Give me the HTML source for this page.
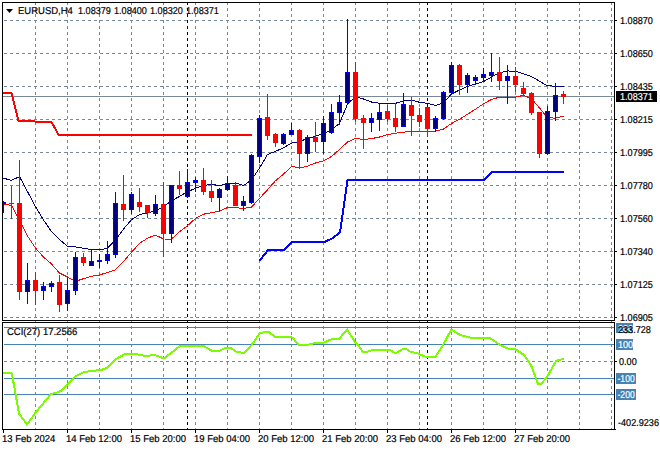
<!DOCTYPE html><html><head><meta charset="utf-8"><style>html,body{margin:0;padding:0;background:#fff;width:660px;height:450px;overflow:hidden}svg{display:block}text{font-family:"Liberation Sans",sans-serif;font-size:10px;fill:#000;text-rendering:geometricPrecision}</style></head><body><svg width="660" height="450" viewBox="0 0 660 450"><g stroke="#778899" stroke-width="1" stroke-dasharray="3 3" shape-rendering="crispEdges"><line x1="35.5" y1="2" x2="35.5" y2="320" /><line x1="35.5" y1="320" x2="35.5" y2="429" /><line x1="67.5" y1="2" x2="67.5" y2="320" /><line x1="67.5" y1="320" x2="67.5" y2="429" /><line x1="99.5" y1="2" x2="99.5" y2="320" /><line x1="99.5" y1="320" x2="99.5" y2="429" /><line x1="131.5" y1="2" x2="131.5" y2="320" /><line x1="131.5" y1="320" x2="131.5" y2="429" /><line x1="163.5" y1="2" x2="163.5" y2="320" /><line x1="163.5" y1="320" x2="163.5" y2="429" /><line x1="195.5" y1="2" x2="195.5" y2="320" /><line x1="195.5" y1="320" x2="195.5" y2="429" /><line x1="227.5" y1="2" x2="227.5" y2="320" /><line x1="227.5" y1="320" x2="227.5" y2="429" /><line x1="259.5" y1="2" x2="259.5" y2="320" /><line x1="259.5" y1="320" x2="259.5" y2="429" /><line x1="291.5" y1="2" x2="291.5" y2="320" /><line x1="291.5" y1="320" x2="291.5" y2="429" /><line x1="323.5" y1="2" x2="323.5" y2="320" /><line x1="323.5" y1="320" x2="323.5" y2="429" /><line x1="355.5" y1="2" x2="355.5" y2="320" /><line x1="355.5" y1="320" x2="355.5" y2="429" /><line x1="387.5" y1="2" x2="387.5" y2="320" /><line x1="387.5" y1="320" x2="387.5" y2="429" /><line x1="419.5" y1="2" x2="419.5" y2="320" /><line x1="419.5" y1="320" x2="419.5" y2="429" /><line x1="451.5" y1="2" x2="451.5" y2="320" /><line x1="451.5" y1="320" x2="451.5" y2="429" /><line x1="483.5" y1="2" x2="483.5" y2="320" /><line x1="483.5" y1="320" x2="483.5" y2="429" /><line x1="515.5" y1="2" x2="515.5" y2="320" /><line x1="515.5" y1="320" x2="515.5" y2="429" /><line x1="547.5" y1="2" x2="547.5" y2="320" /><line x1="547.5" y1="320" x2="547.5" y2="429" /><line x1="579.5" y1="2" x2="579.5" y2="320" /><line x1="579.5" y1="320" x2="579.5" y2="429" /><line x1="611.5" y1="2" x2="611.5" y2="320" /><line x1="611.5" y1="320" x2="611.5" y2="429" /></g><g stroke="#778899" stroke-width="1" stroke-dasharray="3 3" shape-rendering="crispEdges"><line x1="4" y1="20.5" x2="614" y2="20.5" /><line x1="4" y1="53.5" x2="614" y2="53.5" /><line x1="4" y1="86.5" x2="614" y2="86.5" /><line x1="4" y1="119.5" x2="614" y2="119.5" /><line x1="4" y1="152.5" x2="614" y2="152.5" /><line x1="4" y1="185.5" x2="614" y2="185.5" /><line x1="4" y1="218.5" x2="614" y2="218.5" /><line x1="4" y1="251.5" x2="614" y2="251.5" /><line x1="4" y1="284.5" x2="614" y2="284.5" /><line x1="4" y1="317.5" x2="614" y2="317.5" /><line x1="4" y1="361.5" x2="614" y2="361.5" /></g><g stroke="#000" stroke-width="1" stroke-dasharray="3 3" shape-rendering="crispEdges"><line x1="187.5" y1="2" x2="187.5" y2="320"/><line x1="187.5" y1="320" x2="187.5" y2="429"/><line x1="427.5" y1="2" x2="427.5" y2="320"/><line x1="427.5" y1="320" x2="427.5" y2="429"/></g><line x1="3" y1="96.5" x2="614" y2="96.5" stroke="#778899" stroke-width="1" shape-rendering="crispEdges"/><g stroke="#4682b4" stroke-width="1" shape-rendering="crispEdges"><line x1="4" y1="327.5" x2="614" y2="327.5"/><line x1="4" y1="344.5" x2="614" y2="344.5"/><line x1="4" y1="378.5" x2="614" y2="378.5"/><line x1="4" y1="394.5" x2="614" y2="394.5"/></g><polyline points="-4.5,177.5 3.5,178.2 11.5,180.3 19.5,176.6 27.5,191.6 35.5,206.7 43.5,220.0 51.5,231.5 59.5,239.5 67.5,246.2 75.5,247.0 83.5,248.3 91.5,249.5 99.5,250.0 107.5,248.2 115.5,240.0 123.5,229.0 131.5,219.7 139.5,214.6 147.5,213.0 155.5,210.5 163.5,206.9 171.5,200.8 179.5,196.4 187.5,191.7 195.5,188.3 203.5,185.4 211.5,184.4 219.5,185.6 227.5,183.4 235.5,183.0 243.5,185.6 251.5,180.0 259.5,168.0 267.5,154.5 275.5,151.3 283.5,147.8 291.5,143.1 299.5,141.8 307.5,138.3 315.5,136.3 323.5,133.5 331.5,129.8 339.5,123.5 347.5,104.0 355.5,96.5 363.5,99.0 371.5,102.0 379.5,103.3 387.5,103.3 395.5,103.3 403.5,101.1 411.5,99.9 419.5,102.3 427.5,103.3 435.5,105.5 443.5,102.8 451.5,94.0 459.5,90.0 467.5,86.5 475.5,84.0 483.5,81.6 491.5,77.0 499.5,72.8 507.5,70.9 515.5,71.4 523.5,73.7 531.5,76.5 539.5,81.2 547.5,85.9 555.5,86.1 563.5,86.8" fill="none" stroke="#000080" stroke-width="1" shape-rendering="crispEdges"/><polyline points="-4.5,204.0 3.5,204.0 11.5,205.5 19.5,220.0 27.5,236.0 35.5,248.0 43.5,257.0 51.5,264.0 59.5,273.0 67.5,277.0 75.5,281.3 83.5,278.7 91.5,276.3 99.5,275.0 107.5,272.4 115.5,269.8 123.5,261.5 131.5,252.2 139.5,243.4 147.5,238.2 155.5,235.1 163.5,239.0 171.5,239.1 179.5,231.7 187.5,225.7 195.5,218.4 203.5,214.2 211.5,212.7 219.5,211.1 227.5,207.6 235.5,207.6 243.5,208.6 251.5,207.0 259.5,198.5 267.5,189.8 275.5,180.7 283.5,174.2 291.5,166.4 299.5,168.0 307.5,166.1 315.5,163.0 323.5,160.8 331.5,156.5 339.5,149.5 347.5,142.0 355.5,138.3 363.5,139.5 371.5,138.6 379.5,137.0 387.5,134.6 395.5,133.2 403.5,132.1 411.5,131.4 419.5,131.2 427.5,132.0 435.5,131.2 443.5,129.0 451.5,123.5 459.5,119.2 467.5,114.3 475.5,109.2 483.5,103.9 491.5,99.4 499.5,97.2 507.5,97.8 515.5,97.2 523.5,95.3 531.5,98.7 539.5,107.9 547.5,117.6 555.5,118.2 563.5,116.2" fill="none" stroke="#ff0000" stroke-width="1" shape-rendering="crispEdges"/><polyline points="3,93 11.5,93 18.5,121 34.5,121 35.5,122 51.5,122 58.7,135 252,135" fill="none" stroke="#ff0000" stroke-width="2" shape-rendering="crispEdges"/><polyline points="259.5,261 268,250 284,250 292,242 324.5,242 332,238.5 340,232.5 347.5,180 484,180 492,172 564,172" fill="none" stroke="#0000ff" stroke-width="2" shape-rendering="crispEdges"/><g shape-rendering="crispEdges"><rect x="3" y="201" width="1" height="12" fill="#0000ff"/><rect x="4" y="202" width="2" height="2" fill="#0000ff"/><rect x="11" y="186" width="1" height="33" fill="#ff0000"/><rect x="9" y="203" width="5" height="1" fill="#ff0000"/><rect x="19" y="160" width="1" height="140" fill="#ff0000"/><rect x="17" y="203" width="5" height="89" fill="#ff0000"/><rect x="27" y="263" width="1" height="41" fill="#0000ff"/><rect x="25" y="280" width="5" height="12" fill="#0000ff"/><rect x="26" y="281" width="3" height="10" fill="#000080"/><rect x="35" y="272" width="1" height="33" fill="#ff0000"/><rect x="33" y="280" width="5" height="11" fill="#ff0000"/><rect x="43" y="282" width="1" height="18" fill="#0000ff"/><rect x="41" y="286" width="5" height="5" fill="#0000ff"/><rect x="42" y="287" width="3" height="3" fill="#000080"/><rect x="51" y="281" width="1" height="11" fill="#0000ff"/><rect x="49" y="283" width="5" height="4" fill="#0000ff"/><rect x="50" y="284" width="3" height="2" fill="#000080"/><rect x="59" y="275" width="1" height="37" fill="#ff0000"/><rect x="57" y="282" width="5" height="23" fill="#ff0000"/><rect x="67" y="278" width="1" height="33" fill="#0000ff"/><rect x="65" y="290" width="5" height="14" fill="#0000ff"/><rect x="66" y="291" width="3" height="12" fill="#000080"/><rect x="75" y="252" width="1" height="43" fill="#0000ff"/><rect x="73" y="257" width="5" height="34" fill="#0000ff"/><rect x="74" y="258" width="3" height="32" fill="#000080"/><rect x="83" y="253" width="1" height="13" fill="#ff0000"/><rect x="81" y="257" width="5" height="6" fill="#ff0000"/><rect x="91" y="249" width="1" height="17" fill="#0000ff"/><rect x="89" y="261" width="5" height="5" fill="#0000ff"/><rect x="90" y="262" width="3" height="3" fill="#000080"/><rect x="99" y="254" width="1" height="14" fill="#0000ff"/><rect x="97" y="260" width="5" height="2" fill="#0000ff"/><rect x="107" y="241" width="1" height="23" fill="#0000ff"/><rect x="105" y="254" width="5" height="7" fill="#0000ff"/><rect x="106" y="255" width="3" height="5" fill="#000080"/><rect x="115" y="192" width="1" height="66" fill="#0000ff"/><rect x="113" y="203" width="5" height="52" fill="#0000ff"/><rect x="114" y="204" width="3" height="50" fill="#000080"/><rect x="123" y="175" width="1" height="46" fill="#ff0000"/><rect x="121" y="204" width="5" height="6" fill="#ff0000"/><rect x="131" y="192" width="1" height="22" fill="#0000ff"/><rect x="129" y="194" width="5" height="16" fill="#0000ff"/><rect x="130" y="195" width="3" height="14" fill="#000080"/><rect x="139" y="188" width="1" height="24" fill="#ff0000"/><rect x="137" y="202" width="5" height="5" fill="#ff0000"/><rect x="147" y="205" width="1" height="13" fill="#ff0000"/><rect x="145" y="205" width="5" height="8" fill="#ff0000"/><rect x="155" y="195" width="1" height="21" fill="#0000ff"/><rect x="153" y="204" width="5" height="10" fill="#0000ff"/><rect x="154" y="205" width="3" height="8" fill="#000080"/><rect x="163" y="182" width="1" height="75" fill="#ff0000"/><rect x="161" y="204" width="5" height="30" fill="#ff0000"/><rect x="171" y="185" width="1" height="58" fill="#0000ff"/><rect x="169" y="185" width="5" height="49" fill="#0000ff"/><rect x="170" y="186" width="3" height="47" fill="#000080"/><rect x="179" y="171" width="1" height="24" fill="#ff0000"/><rect x="177" y="185" width="5" height="4" fill="#ff0000"/><rect x="187" y="169" width="1" height="29" fill="#0000ff"/><rect x="185" y="182" width="5" height="15" fill="#0000ff"/><rect x="186" y="183" width="3" height="13" fill="#000080"/><rect x="195" y="177" width="1" height="15" fill="#0000ff"/><rect x="193" y="180" width="5" height="3" fill="#0000ff"/><rect x="194" y="181" width="3" height="1" fill="#000080"/><rect x="203" y="168" width="1" height="27" fill="#ff0000"/><rect x="201" y="180" width="5" height="12" fill="#ff0000"/><rect x="211" y="180" width="1" height="22" fill="#ff0000"/><rect x="209" y="191" width="5" height="7" fill="#ff0000"/><rect x="219" y="188" width="1" height="23" fill="#0000ff"/><rect x="217" y="189" width="5" height="9" fill="#0000ff"/><rect x="218" y="190" width="3" height="7" fill="#000080"/><rect x="227" y="176" width="1" height="15" fill="#0000ff"/><rect x="225" y="183" width="5" height="7" fill="#0000ff"/><rect x="226" y="184" width="3" height="5" fill="#000080"/><rect x="235" y="182" width="1" height="24" fill="#ff0000"/><rect x="233" y="185" width="5" height="21" fill="#ff0000"/><rect x="243" y="196" width="1" height="15" fill="#0000ff"/><rect x="241" y="201" width="5" height="5" fill="#0000ff"/><rect x="242" y="202" width="3" height="3" fill="#000080"/><rect x="251" y="154" width="1" height="50" fill="#0000ff"/><rect x="249" y="155" width="5" height="48" fill="#0000ff"/><rect x="250" y="156" width="3" height="46" fill="#000080"/><rect x="259" y="115" width="1" height="48" fill="#0000ff"/><rect x="257" y="118" width="5" height="39" fill="#0000ff"/><rect x="258" y="119" width="3" height="37" fill="#000080"/><rect x="267" y="94" width="1" height="46" fill="#ff0000"/><rect x="265" y="117" width="5" height="19" fill="#ff0000"/><rect x="275" y="133" width="1" height="14" fill="#ff0000"/><rect x="273" y="134" width="5" height="9" fill="#ff0000"/><rect x="283" y="133" width="1" height="12" fill="#0000ff"/><rect x="281" y="134" width="5" height="10" fill="#0000ff"/><rect x="282" y="135" width="3" height="8" fill="#000080"/><rect x="291" y="123" width="1" height="12" fill="#0000ff"/><rect x="289" y="130" width="5" height="5" fill="#0000ff"/><rect x="290" y="131" width="3" height="3" fill="#000080"/><rect x="299" y="129" width="1" height="40" fill="#ff0000"/><rect x="297" y="130" width="5" height="24" fill="#ff0000"/><rect x="307" y="135" width="1" height="27" fill="#0000ff"/><rect x="305" y="137" width="5" height="17" fill="#0000ff"/><rect x="306" y="138" width="3" height="15" fill="#000080"/><rect x="315" y="122" width="1" height="30" fill="#ff0000"/><rect x="313" y="137" width="5" height="5" fill="#ff0000"/><rect x="323" y="116" width="1" height="38" fill="#0000ff"/><rect x="321" y="123" width="5" height="19" fill="#0000ff"/><rect x="322" y="124" width="3" height="17" fill="#000080"/><rect x="331" y="104" width="1" height="30" fill="#0000ff"/><rect x="329" y="112" width="5" height="21" fill="#0000ff"/><rect x="330" y="113" width="3" height="19" fill="#000080"/><rect x="339" y="95" width="1" height="30" fill="#0000ff"/><rect x="337" y="102" width="5" height="11" fill="#0000ff"/><rect x="338" y="103" width="3" height="9" fill="#000080"/><rect x="347" y="19" width="1" height="84" fill="#0000ff"/><rect x="345" y="72" width="5" height="31" fill="#0000ff"/><rect x="346" y="73" width="3" height="29" fill="#000080"/><rect x="355" y="62" width="1" height="60" fill="#ff0000"/><rect x="353" y="72" width="5" height="47" fill="#ff0000"/><rect x="363" y="115" width="1" height="34" fill="#ff0000"/><rect x="361" y="118" width="5" height="5" fill="#ff0000"/><rect x="371" y="113" width="1" height="19" fill="#0000ff"/><rect x="369" y="118" width="5" height="5" fill="#0000ff"/><rect x="370" y="119" width="3" height="3" fill="#000080"/><rect x="379" y="104" width="1" height="27" fill="#0000ff"/><rect x="377" y="112" width="5" height="8" fill="#0000ff"/><rect x="378" y="113" width="3" height="6" fill="#000080"/><rect x="387" y="105" width="1" height="17" fill="#ff0000"/><rect x="385" y="111" width="5" height="8" fill="#ff0000"/><rect x="395" y="103" width="1" height="29" fill="#ff0000"/><rect x="393" y="118" width="5" height="9" fill="#ff0000"/><rect x="403" y="93" width="1" height="34" fill="#0000ff"/><rect x="401" y="104" width="5" height="23" fill="#0000ff"/><rect x="402" y="105" width="3" height="21" fill="#000080"/><rect x="411" y="97" width="1" height="39" fill="#ff0000"/><rect x="409" y="105" width="5" height="11" fill="#ff0000"/><rect x="419" y="108" width="1" height="19" fill="#ff0000"/><rect x="417" y="115" width="5" height="7" fill="#ff0000"/><rect x="427" y="107" width="1" height="30" fill="#ff0000"/><rect x="425" y="107" width="5" height="22" fill="#ff0000"/><rect x="435" y="116" width="1" height="16" fill="#0000ff"/><rect x="433" y="118" width="5" height="11" fill="#0000ff"/><rect x="434" y="119" width="3" height="9" fill="#000080"/><rect x="443" y="91" width="1" height="29" fill="#0000ff"/><rect x="441" y="92" width="5" height="27" fill="#0000ff"/><rect x="442" y="93" width="3" height="25" fill="#000080"/><rect x="451" y="62" width="1" height="31" fill="#0000ff"/><rect x="449" y="65" width="5" height="28" fill="#0000ff"/><rect x="450" y="66" width="3" height="26" fill="#000080"/><rect x="459" y="64" width="1" height="31" fill="#ff0000"/><rect x="457" y="65" width="5" height="20" fill="#ff0000"/><rect x="467" y="73" width="1" height="20" fill="#0000ff"/><rect x="465" y="75" width="5" height="10" fill="#0000ff"/><rect x="466" y="76" width="3" height="8" fill="#000080"/><rect x="475" y="75" width="1" height="10" fill="#0000ff"/><rect x="473" y="77" width="5" height="4" fill="#0000ff"/><rect x="474" y="78" width="3" height="2" fill="#000080"/><rect x="483" y="68" width="1" height="14" fill="#0000ff"/><rect x="481" y="74" width="5" height="4" fill="#0000ff"/><rect x="482" y="75" width="3" height="2" fill="#000080"/><rect x="491" y="53" width="1" height="29" fill="#0000ff"/><rect x="489" y="72" width="5" height="4" fill="#0000ff"/><rect x="490" y="73" width="3" height="2" fill="#000080"/><rect x="499" y="57" width="1" height="33" fill="#ff0000"/><rect x="497" y="72" width="5" height="9" fill="#ff0000"/><rect x="507" y="65" width="1" height="39" fill="#0000ff"/><rect x="505" y="76" width="5" height="5" fill="#0000ff"/><rect x="506" y="77" width="3" height="3" fill="#000080"/><rect x="515" y="67" width="1" height="25" fill="#ff0000"/><rect x="513" y="76" width="5" height="9" fill="#ff0000"/><rect x="523" y="82" width="1" height="14" fill="#ff0000"/><rect x="521" y="88" width="5" height="6" fill="#ff0000"/><rect x="531" y="92" width="1" height="23" fill="#ff0000"/><rect x="529" y="93" width="5" height="20" fill="#ff0000"/><rect x="539" y="112" width="1" height="46" fill="#ff0000"/><rect x="537" y="112" width="5" height="42" fill="#ff0000"/><rect x="547" y="106" width="1" height="49" fill="#0000ff"/><rect x="545" y="111" width="5" height="43" fill="#0000ff"/><rect x="546" y="112" width="3" height="41" fill="#000080"/><rect x="555" y="83" width="1" height="38" fill="#0000ff"/><rect x="553" y="95" width="5" height="17" fill="#0000ff"/><rect x="554" y="96" width="3" height="15" fill="#000080"/><rect x="563" y="91" width="1" height="13" fill="#ff0000"/><rect x="561" y="94" width="5" height="3" fill="#ff0000"/></g><polyline points="2.5,373 10,372.5 12,374 19,413.5 27,424.5 36,412 51,394 57,392.5 61,391 67,385 75,376.5 84,372 92,371 101,370 107,368 116,359 125,354 136,354 145,356 155,355 164,358.5 171,353 180,346 195,346 203.5,346 211.5,350.5 220,350.5 226,347.5 230,347.5 236,351.5 244,353 252,344.5 260,333 266,332 269,332 275,337 291,337 293,338 298.5,345 307,345 315,343 324,342.5 331,339.5 339,339 347,329.5 355,342 358,345 363,352 367,352 372,350 380,349.5 387,349.5 390,350 394,352.5 397,352.5 403,349 406,349 410,351.5 416.5,353 425,356.5 427,357 435,357 442,347 451,330 453,330.5 460,335 472,338 490,338 500,345 509,349 515,349 524,355 531,365 538,384 541,384 547,377 556,361 564,358.5" fill="none" stroke="#7cfc00" stroke-width="2" shape-rendering="crispEdges"/><rect x="615" y="0" width="45" height="450" fill="#fff"/><rect x="0" y="430" width="660" height="20" fill="#fff"/><rect x="0" y="0" width="2" height="450" fill="#fff"/><rect x="0" y="0" width="660" height="2" fill="#fff"/><g fill="none" stroke="#000" stroke-width="1" shape-rendering="crispEdges"><rect x="2.5" y="2.5" width="612" height="318"/><rect x="2.5" y="322.5" width="612" height="107"/></g><g fill="#000" shape-rendering="crispEdges"><rect x="615" y="20" width="2" height="1"/><rect x="615" y="53" width="2" height="1"/><rect x="615" y="86" width="2" height="1"/><rect x="615" y="119" width="2" height="1"/><rect x="615" y="152" width="2" height="1"/><rect x="615" y="185" width="2" height="1"/><rect x="615" y="218" width="2" height="1"/><rect x="615" y="251" width="2" height="1"/><rect x="615" y="284" width="2" height="1"/><rect x="615" y="317" width="2" height="1"/><rect x="615" y="361" width="2" height="1"/><rect x="615" y="429" width="1" height="1"/><rect x="3" y="430" width="1" height="3"/><rect x="67" y="430" width="1" height="3"/><rect x="131" y="430" width="1" height="3"/><rect x="195" y="430" width="1" height="3"/><rect x="259" y="430" width="1" height="3"/><rect x="323" y="430" width="1" height="3"/><rect x="387" y="430" width="1" height="3"/><rect x="451" y="430" width="1" height="3"/><rect x="515" y="430" width="1" height="3"/></g><g><text transform="translate(620,24) scale(0.91,1)" style="fill:#000;font-size:10px;stroke:#000;stroke-width:0.2px" >1.08870</text><text transform="translate(620,57) scale(0.91,1)" style="fill:#000;font-size:10px;stroke:#000;stroke-width:0.2px" >1.08650</text><text transform="translate(620,90) scale(0.91,1)" style="fill:#000;font-size:10px;stroke:#000;stroke-width:0.2px" >1.08435</text><text transform="translate(620,123) scale(0.91,1)" style="fill:#000;font-size:10px;stroke:#000;stroke-width:0.2px" >1.08215</text><text transform="translate(620,156) scale(0.91,1)" style="fill:#000;font-size:10px;stroke:#000;stroke-width:0.2px" >1.07995</text><text transform="translate(620,189) scale(0.91,1)" style="fill:#000;font-size:10px;stroke:#000;stroke-width:0.2px" >1.07780</text><text transform="translate(620,222) scale(0.91,1)" style="fill:#000;font-size:10px;stroke:#000;stroke-width:0.2px" >1.07560</text><text transform="translate(620,255) scale(0.91,1)" style="fill:#000;font-size:10px;stroke:#000;stroke-width:0.2px" >1.07340</text><text transform="translate(620,288) scale(0.91,1)" style="fill:#000;font-size:10px;stroke:#000;stroke-width:0.2px" >1.07125</text><text transform="translate(620,321) scale(0.91,1)" style="fill:#000;font-size:10px;stroke:#000;stroke-width:0.2px" >1.06905</text></g><rect x="616" y="91" width="41" height="11" fill="#000"/><text transform="translate(620,100) scale(0.91,1)" style="fill:#fff;font-size:10px;stroke:#fff;stroke-width:0.2px" >1.08371</text><rect x="616" y="323" width="17" height="10" fill="#4682b4"/><text transform="translate(618,332) scale(0.91,1)" style="fill:#fff;font-size:10px;stroke:#fff;stroke-width:0.2px" >200</text><rect x="616" y="339" width="17" height="11" fill="#4682b4"/><text transform="translate(618,348) scale(0.91,1)" style="fill:#fff;font-size:10px;stroke:#fff;stroke-width:0.2px" >100</text><rect x="616" y="373" width="20" height="11" fill="#4682b4"/><text transform="translate(617.5,382) scale(0.86,1)" style="fill:#fff;font-size:10px;stroke:#fff;stroke-width:0.2px" >-100</text><rect x="616" y="389" width="20" height="11" fill="#4682b4"/><text transform="translate(617.5,398) scale(0.86,1)" style="fill:#fff;font-size:10px;stroke:#fff;stroke-width:0.2px" >-200</text><text transform="translate(618,333) scale(0.91,1)" style="fill:#000;font-size:10px;stroke:#000;stroke-width:0.2px" >233.728</text><text transform="translate(619,365) scale(0.91,1)" style="fill:#000;font-size:10px;stroke:#000;stroke-width:0.2px" >0.00</text><text transform="translate(618,426) scale(0.91,1)" style="fill:#000;font-size:10px;stroke:#000;stroke-width:0.2px" >-402.9236</text><text transform="translate(2,442) scale(0.95,1)" style="fill:#000;font-size:10px;stroke:#000;stroke-width:0.2px" >13 Feb 2024</text><text transform="translate(66,442) scale(0.95,1)" style="fill:#000;font-size:10px;stroke:#000;stroke-width:0.2px" >14 Feb 12:00</text><text transform="translate(130,442) scale(0.95,1)" style="fill:#000;font-size:10px;stroke:#000;stroke-width:0.2px" >15 Feb 20:00</text><text transform="translate(194,442) scale(0.95,1)" style="fill:#000;font-size:10px;stroke:#000;stroke-width:0.2px" >19 Feb 04:00</text><text transform="translate(258,442) scale(0.95,1)" style="fill:#000;font-size:10px;stroke:#000;stroke-width:0.2px" >20 Feb 12:00</text><text transform="translate(322,442) scale(0.95,1)" style="fill:#000;font-size:10px;stroke:#000;stroke-width:0.2px" >21 Feb 20:00</text><text transform="translate(386,442) scale(0.95,1)" style="fill:#000;font-size:10px;stroke:#000;stroke-width:0.2px" >23 Feb 04:00</text><text transform="translate(450,442) scale(0.95,1)" style="fill:#000;font-size:10px;stroke:#000;stroke-width:0.2px" >26 Feb 12:00</text><text transform="translate(514,442) scale(0.95,1)" style="fill:#000;font-size:10px;stroke:#000;stroke-width:0.2px" >27 Feb 20:00</text><path d="M6,9 L13,9 L9.5,13 Z" fill="#000"/><text transform="translate(18,14) scale(0.95,1)" style="fill:#000;font-size:10px;stroke:#000;stroke-width:0.2px" >EURUSD,H4</text><text transform="translate(78,14) scale(0.91,1)" style="fill:#000;font-size:10px;stroke:#000;stroke-width:0.2px" >1.08379</text><text transform="translate(114,14) scale(0.91,1)" style="fill:#000;font-size:10px;stroke:#000;stroke-width:0.2px" >1.08400</text><text transform="translate(150,14) scale(0.91,1)" style="fill:#000;font-size:10px;stroke:#000;stroke-width:0.2px" >1.08320</text><text transform="translate(186,14) scale(0.91,1)" style="fill:#000;font-size:10px;stroke:#000;stroke-width:0.2px" >1.08371</text><text transform="translate(7,335) scale(0.95,1)" style="fill:#000;font-size:10px;stroke:#000;stroke-width:0.2px" >CCI(27) 17.2566</text></svg></body></html>
